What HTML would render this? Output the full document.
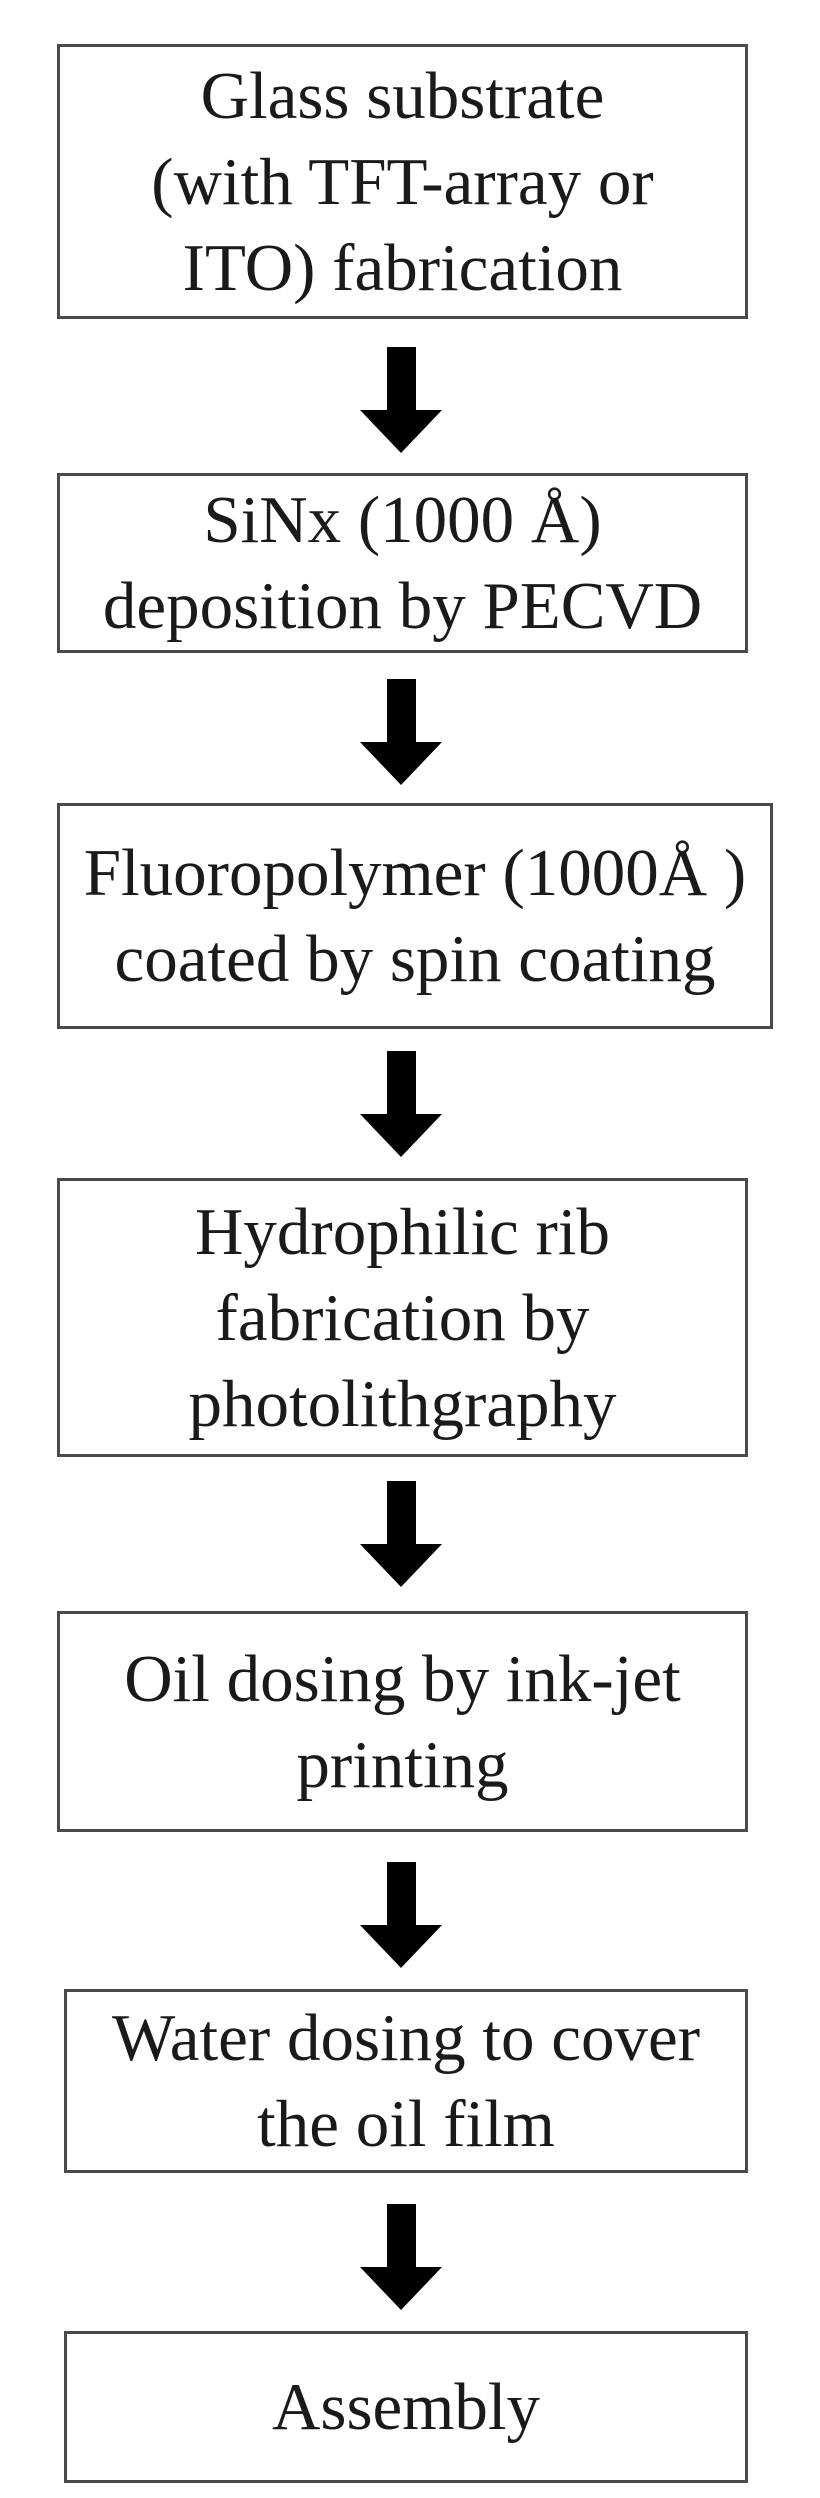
<!DOCTYPE html>
<html><head><meta charset="utf-8"><style>
html,body{margin:0;padding:0;background:#fff;}
body{width:820px;height:2498px;position:relative;overflow:hidden;font-family:"Liberation Serif",serif;color:#1a1a1a;}
.b{position:absolute;box-sizing:border-box;border:3px solid #4a4a4a;display:flex;align-items:center;justify-content:center;text-align:center;font-size:67px;line-height:86px;white-space:nowrap;}
.a{position:absolute;left:360px;width:82px;height:106px;}
</style></head><body>
<div class="b" style="left:57px;top:44px;width:691px;height:275px;">Glass substrate<br>(with TFT-array or<br>ITO) fabrication</div>
<svg class="a" style="top:347px" viewBox="0 0 82 106"><polygon points="27,0 56,0 56,63 82,63 41,106 0,63 27,63" fill="#000"/></svg>
<div class="b" style="left:57px;top:473px;width:691px;height:180px;">SiNx (1000 Å)<br>deposition by PECVD</div>
<svg class="a" style="top:679px" viewBox="0 0 82 106"><polygon points="27,0 56,0 56,63 82,63 41,106 0,63 27,63" fill="#000"/></svg>
<div class="b" style="left:57px;top:803px;width:716px;height:226px;">Fluoropolymer (1000Å )<br>coated by spin coating</div>
<svg class="a" style="top:1051px" viewBox="0 0 82 106"><polygon points="27,0 56,0 56,63 82,63 41,106 0,63 27,63" fill="#000"/></svg>
<div class="b" style="left:57px;top:1178px;width:691px;height:279px;">Hydrophilic rib<br>fabrication by<br>photolithgraphy</div>
<svg class="a" style="top:1481px" viewBox="0 0 82 106"><polygon points="27,0 56,0 56,63 82,63 41,106 0,63 27,63" fill="#000"/></svg>
<div class="b" style="left:57px;top:1611px;width:691px;height:221px;">Oil dosing by ink-jet<br>printing</div>
<svg class="a" style="top:1862px" viewBox="0 0 82 106"><polygon points="27,0 56,0 56,63 82,63 41,106 0,63 27,63" fill="#000"/></svg>
<div class="b" style="left:64px;top:1989px;width:684px;height:184px;">Water dosing to cover<br>the oil film</div>
<svg class="a" style="top:2204px" viewBox="0 0 82 106"><polygon points="27,0 56,0 56,63 82,63 41,106 0,63 27,63" fill="#000"/></svg>
<div class="b" style="left:64px;top:2331px;width:684px;height:152px;">Assembly</div>
</body></html>
